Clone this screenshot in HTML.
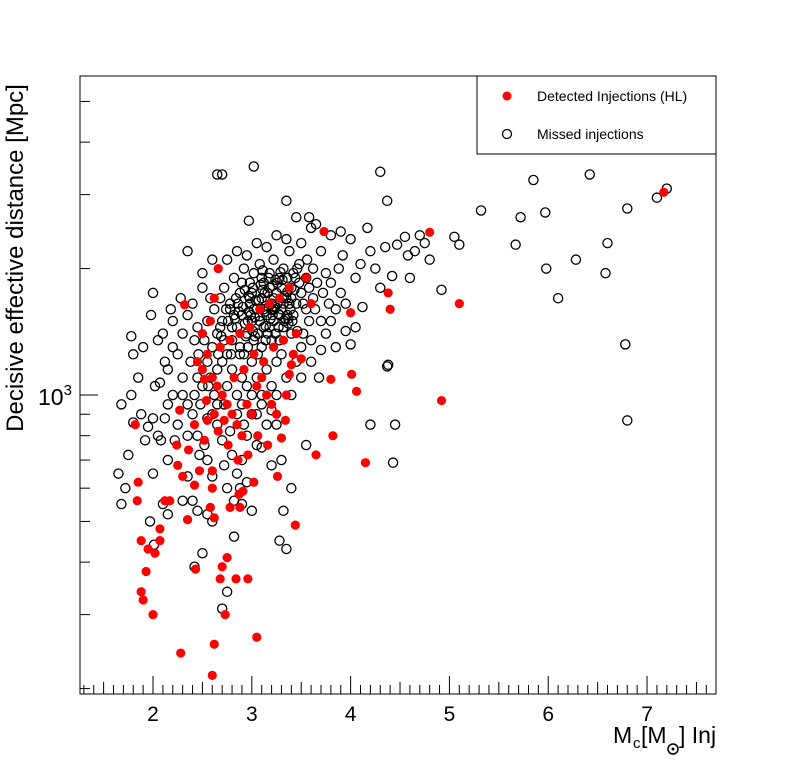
<!DOCTYPE html>
<html><head><meta charset="utf-8">
<style>
html,body{margin:0;padding:0;background:#fff;}
svg{display:block;font-family:"Liberation Sans",sans-serif;}
</style></head>
<body>
<svg id="chart" width="796" height="772" viewBox="0 0 796 772" xmlns="http://www.w3.org/2000/svg">
<rect x="0" y="0" width="796" height="772" fill="#fff"/>
<g id="marks-missed"></g>
<g id="marks-detected"></g>
<rect x="80" y="76" width="636" height="618" fill="none" stroke="#000" stroke-width="1"/>
<g id="xticks"></g>
<g id="yticks"></g>
<text transform="translate(23,258) rotate(-90)" text-anchor="middle" font-size="24">Decisive effective distance [Mpc]</text>
<g font-size="23">
<text x="613" y="743">M</text><text x="633" y="748" font-size="15">c</text><text x="641" y="743">[M</text>
<circle cx="673" cy="749" r="5" fill="none" stroke="#000" stroke-width="1.5"/><circle cx="673" cy="749" r="1.5" fill="#000"/>
<text x="679" y="743">] Inj</text>
</g>
<g>
<rect x="477" y="76" width="239" height="78" fill="#fff" stroke="#000" stroke-width="1"/>
<circle cx="507" cy="96" r="4.5" fill="#ff0000"/>
<text x="537" y="101" font-size="14">Detected Injections (HL)</text>
<circle cx="507" cy="134" r="4.5" fill="none" stroke="#000" stroke-width="1.3"/>
<text x="537" y="139" font-size="14">Missed injections</text>
</g>
</svg>
<script>
const missedX=[7.2,7.1,6.8,6.42,5.85,5.72,5.97,5.32,6.6,6.28,5.67,5.98,6.58,6.1,6.78,6.8,4.92,5.05,5.1,4.3,4.37,4.7,4.75,4.55,4.47,4.65,4.58,4.8,4.6,4.42,4.38,4.37,4.45,4.43,4.2,4.17,4.2,4.1,4.3,4.0,4.12,4.05,3.95,4.0,3.85,3.92,4.35,4.25,4.05,3.9,3.8,3.75,3.65,3.7,3.68,3.7,3.85,3.8,3.62,3.55,3.5,3.45,3.35,3.58,3.6,3.02,2.65,2.7,2.97,2.35,
1.68,1.65,1.68,1.75,1.72,1.8,1.78,1.8,1.78,1.85,1.88,1.92,1.97,2.0,2.0,2.02,2.05,1.98,2.0,1.9,2.1,2.1,2.15,2.01,1.95,2.07,2.12,2.15,2.2,2.25,2.3,2.2,2.25,2.4,2.5,2.5,2.6,2.2,2.15,2.05,2.12,2.18,2.3,2.35,2.28,2.42,2.38,2.3,2.4,2.45,2.35,2.48,2.22,2.45,2.52,2.55,2.6,2.47,2.65,2.7,2.72,2.8,2.85,2.9,2.88,2.95,2.75,2.82,2.9,3.0,3.05,3.1,2.95,3.15,3.55,3.3,3.4,3.32,3.28,3.35,2.42,2.5,2.55,2.7,2.75,2.82,2.3,2.4,2.45,2.6,2.35,2.15,2.08,3.2,3.25,3.05,3.1,2.85,2.78,2.92,3.0,3.2,3.25,2.6,2.65,2.55,2.35,2.42,2.5,2.58,2.55,
2.6,2.65,2.7,2.75,2.8,2.85,2.9,2.95,3.0,3.05,3.1,3.15,3.2,3.25,3.3,3.35,3.4,3.45,3.5,3.55,2.62,2.68,2.72,2.78,2.82,2.88,2.92,2.98,3.02,3.08,3.12,3.18,3.22,3.28,3.32,3.38,3.42,3.48,3.52,3.58,2.55,2.58,2.45,2.52,2.7,2.8,2.9,3.0,3.1,3.2,3.3,3.4,3.5,3.6,2.65,2.75,2.85,2.95,3.05,3.15,3.25,3.35,3.45,2.72,2.82,2.92,3.02,3.12,3.22,3.32,3.42,3.52,2.68,2.78,2.88,2.98,3.08,3.18,3.28,3.38,3.48,2.75,2.85,2.95,3.05,3.15,3.25,3.35,2.9,3.0,3.1,3.2,3.3,3.4,3.12,3.22,3.32,3.02,2.96,3.06,3.16,3.26,3.36,2.86,2.76,2.66,2.56,2.46,2.62,2.72,3.36,3.46,3.56,3.62,3.66,3.72,3.78,3.58,3.64,3.7,3.75,3.6,3.5,3.4,3.2,3.1,3.0,2.9,3.8,3.9,3.95,3.88,2.8,3.14,3.24,
3.03,3.13,3.23,3.33,3.43,2.93,2.83,3.07,3.17,3.27,3.37,2.97,2.87,3.11,3.21,3.31,3.01,2.91,3.19,3.29,3.09,2.99,3.39,3.44,3.04,3.14,3.24,3.34,2.94,2.84,2.74,3.16,3.26,3.06,2.96,3.36,3.46,3.11,3.21,3.01,2.79,2.69,3.31,3.41,3.18,3.08,2.98,2.88,3.28,3.38,3.23,3.13,3.03,2.93,3.33,3.17,3.07,2.97,3.27,3.37];
const missedY=[3100,2950,2780,3350,3250,2650,2720,2750,2300,2100,2280,2000,1950,1700,1320,870,1780,2380,2280,3400,2900,2400,2300,2380,2280,2200,2150,2100,1900,1920,1180,1170,850,690,850,2500,2200,2050,1800,2350,1620,1450,1420,1320,1600,2150,2250,2000,1900,2450,2400,1950,2550,2200,1100,1280,1300,1500,1700,1900,2300,2650,2900,2650,2500,3500,3350,3350,2600,2200,
950,650,550,720,600,860,1000,1250,1380,1100,900,780,500,650,880,1050,800,1550,1750,1300,1400,550,700,440,840,1070,880,950,1000,850,1100,1500,1250,1650,1800,1950,2100,1300,1150,1350,1200,1600,1400,1550,1700,1350,1200,1000,900,1100,800,950,780,800,760,700,640,720,850,780,680,720,650,700,600,620,600,560,550,530,760,750,800,850,760,700,600,530,450,430,390,420,520,310,340,460,560,560,530,500,640,520,780,680,850,900,950,900,820,850,900,920,1000,900,950,880,950,1000,1050,1100,1200,
1300,1400,1500,1250,1350,1450,1550,1400,1500,1600,1700,1550,1650,1750,1600,1700,1800,1650,1750,1600,1600,1700,1800,1650,1900,1750,2000,1850,1950,2050,1850,1950,2100,1900,2000,2200,1950,2050,1400,1500,1500,1700,1450,1350,1200,1150,1100,1200,1300,1350,1250,1400,1300,1350,1150,1050,1000,1050,1100,1150,1200,1100,1200,1350,1550,1250,1350,1450,1500,1450,1550,1650,1450,1600,1300,1650,1500,1800,1550,1650,1850,2100,2200,2150,2300,2250,2400,2350,1850,1750,1900,1600,1800,1700,1600,1700,1650,1600,1500,1400,1750,1850,1550,1650,1500,1250,1050,1250,1000,950,1900,2000,2100,2000,1850,1750,1650,1800,1600,1500,1400,1200,1100,1000,1050,1000,1000,950,1850,1750,1650,2000,1450,1350,1400,
1530,1580,1620,1720,1780,1480,1520,1680,1620,1560,1480,1720,1580,1780,1820,1700,1420,1620,1520,1960,1830,1550,1600,1900,1680,1460,1880,1520,1380,1700,1600,1400,1650,1250,1300,1760,1420,1980,1550,1800,1250,1380,1880,1500,1450,1540,1700,1250,1350,1650,1600,1750,1380,1780,1500,1900,1680,1580,1450,1520];
const detectedX=[1.82,1.85,1.84,1.88,1.95,1.93,1.88,1.9,2.0,2.07,2.07,2.02,2.12,2.17,2.27,2.24,2.25,2.3,2.32,2.35,2.42,2.43,2.52,2.54,2.55,2.6,2.6,2.58,2.62,2.62,2.6,2.66,2.7,2.68,2.75,2.84,2.96,2.78,2.88,2.87,2.91,2.73,3.05,2.28,3.73,4.8,7.17,5.1,4.38,4.4,4.0,4.92,3.8,4.01,4.06,3.82,3.65,4.15,3.44,3.3,3.34,3.4,3.38,3.42,3.5,
2.45,2.5,2.55,2.6,2.65,2.7,2.75,2.8,2.85,2.9,2.95,3.0,3.05,3.1,3.15,3.2,3.25,2.62,2.72,2.82,2.92,3.02,3.12,3.22,3.32,2.68,2.78,2.88,2.98,3.08,3.18,2.5,2.58,3.28,3.38,3.55,3.6,2.66,2.76,2.86,2.96,3.06,3.16,3.26,2.52,2.42,2.36,2.47,3.02,2.62,3.45,3.35];
const detectedY=[850,620,560,450,430,380,340,325,300,480,450,420,560,560,920,760,680,640,1640,505,610,385,1090,970,870,660,600,540,510,255,215,2000,390,365,410,365,365,540,540,580,590,300,265,243,2450,2440,3040,1650,1750,1600,1570,970,1090,1120,1020,800,720,690,490,790,870,1180,1120,1250,1220,
1200,1150,1250,1100,1050,1000,950,900,850,800,950,900,1050,1100,1000,950,900,900,870,1100,1150,1250,1200,1300,1350,1300,1350,1400,1450,1600,1650,1400,1500,1700,1800,1900,1650,820,760,700,720,800,760,640,780,850,740,660,620,1700,1400,1000];
const xTickLabels=["2","3","4","5","6","7"];
const yTickValues=[200,300,400,500,600,700,800,900,1000,2000,3000,4000,5000];

const NS="http://www.w3.org/2000/svg";
const X0=80,X1=716,Y0=76,Y1=694;
const XMIN=1.261,XMAX=7.698;
const PXD=420, Y1000=395;
function xs(v){return X0+(v-XMIN)/(XMAX-XMIN)*(X1-X0);}
function ys(v){return Y1000-PXD*Math.log10(v/1000);}
function mk(tag,attrs,parent){const e=document.createElementNS(NS,tag);for(const k in attrs)e.setAttribute(k,attrs[k]);parent.appendChild(e);return e;}

const gm=document.getElementById('marks-missed');
for(let i=0;i<missedX.length;i++){
  const c=mk('circle',{cx:xs(missedX[i]),cy:ys(missedY[i]),r:4.6,fill:'none',stroke:'#000','stroke-width':1.3},gm);
  
  
}
const gd=document.getElementById('marks-detected');
for(let i=0;i<detectedX.length;i++){
  const c=mk('circle',{cx:xs(detectedX[i]),cy:ys(detectedY[i]),r:4.6,fill:'#ff0000'},gd);
  
  
}
const gx=document.getElementById('xticks');
for(let k=13;k<=76;k++){
  const v=k/10; if(v<XMIN||v>XMAX)continue;
  const major=(k%10===0), half=(k%5===0);
  const len=major?18:(half?12:9);
  const t=mk('line',{x1:xs(v),x2:xs(v),y1:Y1,y2:Y1-len,stroke:'#000','stroke-width':1},gx);
  
  
}
xTickLabels.forEach(s=>{
  const t=mk('text',{x:xs(parseFloat(s)),y:721,'text-anchor':'middle','font-size':21},gx);
  t.textContent=s;
  
  
});
const gy=document.getElementById('yticks');
yTickValues.forEach(v=>{
  const y=ys(v); if(y<Y0||y>Y1)return;
  const len=(v===1000)?18:10;
  const t=mk('line',{x1:X0,x2:X0+len,y1:y,y2:y,stroke:'#000','stroke-width':1},gy);
  
  
});
const yl=mk('text',{x:38,y:ys(1000)+10,'font-size':23},gy);


yl.innerHTML='10<tspan dy="-10" font-size="15">3</tspan>';
</script>
</body></html>
